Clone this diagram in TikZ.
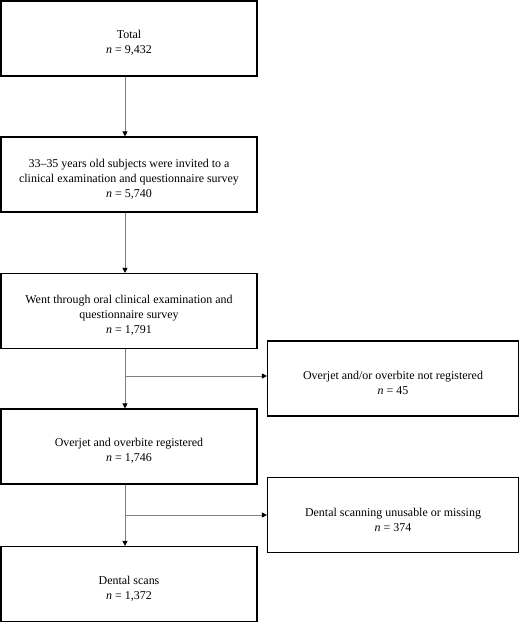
\documentclass[tikz,border=0pt]{standalone}
\usepackage{fontspec}
\setmainfont{Liberation Serif}
\usetikzlibrary{arrows.meta}
\newcommand{\nval}[1]{\textit{n} = #1}
\begin{document}
\begin{tikzpicture}[x=1bp,y=-1bp,
    box/.style={draw, line width=1.1bp, minimum width=256bp, minimum height=75bp, inner sep=0pt},
    sidebox/.style={box, minimum width=251bp},
    boxtext/.style={align=center, font=\fontsize{12}{15}\selectfont, inner sep=0pt, yshift=-4.5bp},
    flow/.style={draw=gray, line width=0.8bp, -{Triangle[black,length=5bp,width=5bp]}}]

    \useasboundingbox (0,0) rectangle (521,624);

    % Hauptstrang
    \node[box, label={[boxtext]center:{Total\\\nval{9,432}}}] (total) at (129,38.5) {};
    \node[box, label={[boxtext]center:{33--35 years old subjects were invited to a\\clinical examination and questionnaire survey\\\nval{5,740}}}] (invited) at (129,174.5) {};
    \node[box, label={[boxtext]center:{Went through oral clinical examination and\\questionnaire survey\\\nval{1,791}}}] (exam) at (129,311) {};
    \node[box, label={[boxtext]center:{Overjet and overbite registered\\\nval{1,746}}}] (registered) at (129,446.5) {};
    \node[box, label={[boxtext]center:{Dental scans\\\nval{1,372}}}] (scans) at (129,584) {};

    % Ausschluss
    \node[sidebox, label={[boxtext]center:{Overjet and/or overbite not registered\\\nval{45}}}] (notreg) at (393,378.5) {};
    \node[sidebox, label={[boxtext]center:{Dental scanning unusable or missing\\\nval{374}}}] (unusable) at (393,515) {};

    % Pfeile
    \draw[flow] ([xshift=-4bp]total.south) -- ([xshift=-4bp]invited.north);
    \draw[flow] ([xshift=-4bp]invited.south) -- ([xshift=-4bp]exam.north);
    \draw[flow] ([xshift=-4bp]exam.south) -- ([xshift=-4bp]registered.north);
    \draw[flow] ([xshift=-4bp]registered.south) -- ([xshift=-4bp]scans.north);

    \coordinate (split1) at (125,376);
    \coordinate (split2) at (125,515);
    \draw[flow] (split1) -- (split1 -| notreg.west);
    \draw[flow] (split2) -- (split2 -| unusable.west);

\end{tikzpicture}
\end{document}
